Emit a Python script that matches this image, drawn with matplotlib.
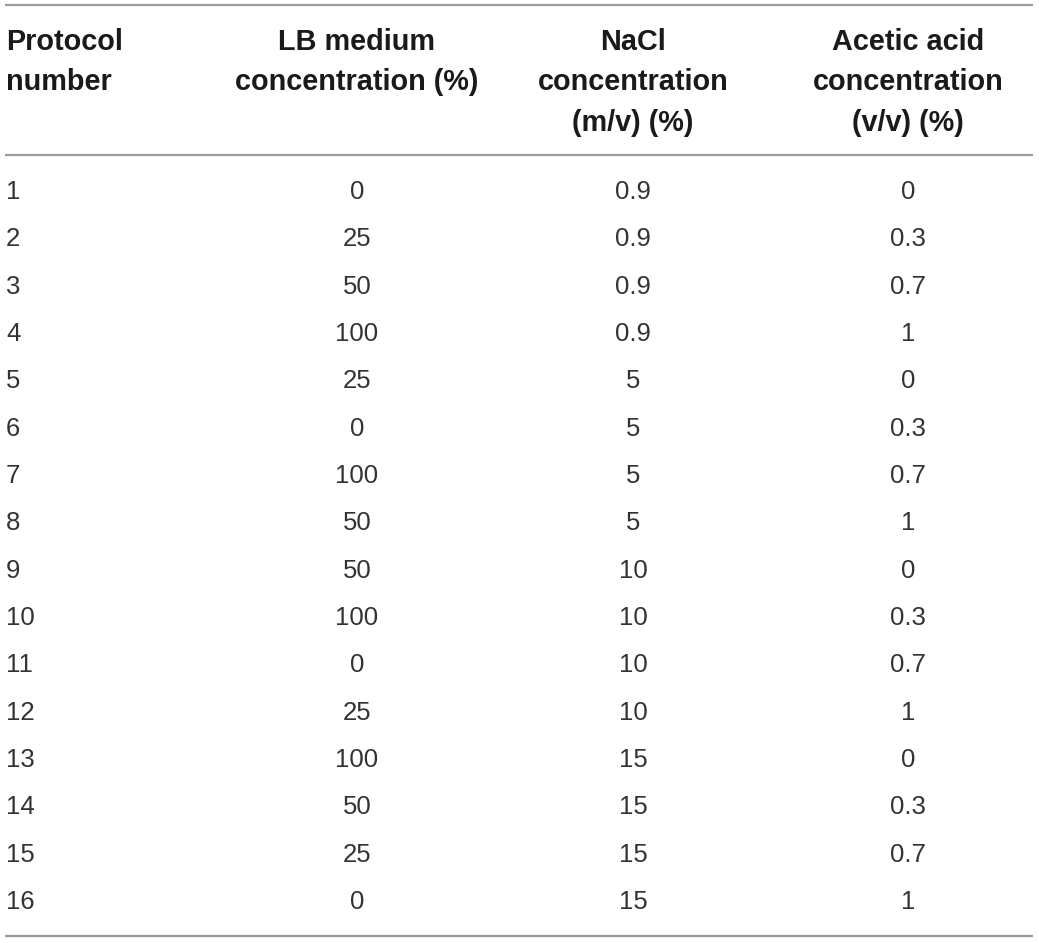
import matplotlib.pyplot as plt

headers = [
    "Protocol\nnumber",
    "LB medium\nconcentration (%)",
    "NaCl\nconcentration\n(m/v) (%)",
    "Acetic acid\nconcentration\n(v/v) (%)",
]
protocol = ["1", "2", "3", "4", "5", "6", "7", "8",
            "9", "10", "11", "12", "13", "14", "15", "16"]
lb_medium = ["0", "25", "50", "100", "25", "0", "100", "50",
             "50", "100", "0", "25", "100", "50", "25", "0"]
nacl = ["0.9", "0.9", "0.9", "0.9", "5", "5", "5", "5",
        "10", "10", "10", "10", "15", "15", "15", "15"]
acetic = ["0", "0.3", "0.7", "1", "0", "0.3", "0.7", "1",
          "0", "0.3", "0.7", "1", "0", "0.3", "0.7", "1"]

W, H = 1039, 943
fig = plt.figure(figsize=(W / 100, H / 100), dpi=100)
ax = fig.add_axes([0, 0, 1, 1])
ax.set_xlim(0, W)
ax.set_ylim(H, 0)
ax.axis("off")

col_x = [6, 357, 633, 908]
col_ha = ["left", "center", "center", "center"]
head_y0 = 42
head_dy = 40.5
row_y0 = 190
row_dy = 47.33

font = "Liberation Sans"
txt_color = "#1a1a1a"
line_color = "#9a9a9a"

# header
for x, ha, h in zip(col_x, col_ha, headers):
    for k, part in enumerate(h.split("\n")):
        ax.text(x, head_y0 + k * head_dy, part, ha=ha, va="center",
                fontsize=20.8, fontweight="bold", family=font,
                color=txt_color)

# body
columns = [protocol, lb_medium, nacl, acetic]
for ci, col in enumerate(columns):
    for ri, val in enumerate(col):
        ax.text(col_x[ci], row_y0 + 2 + ri * row_dy, val, ha=col_ha[ci],
                va="center", fontsize=18.5, family=font, color="#333333")

for y in [5, 155, 936]:
    ax.plot([5, 1033], [y, y], color=line_color, lw=1.6,
            solid_capstyle="butt")

fig.savefig("out.png", dpi=100)
